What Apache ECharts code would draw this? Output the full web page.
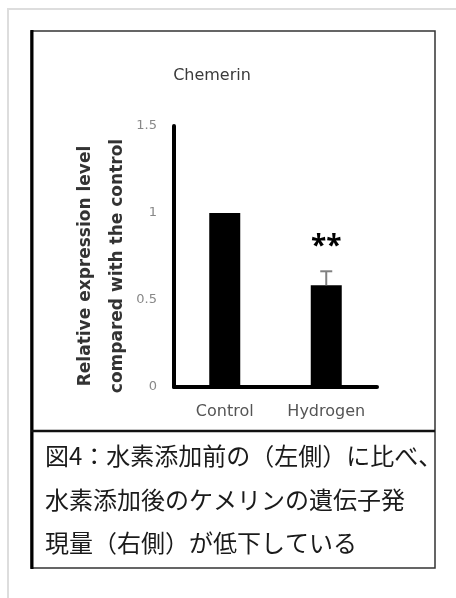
<!DOCTYPE html>
<html>
<head>
<meta charset="utf-8">
<script src="https://cdn.jsdelivr.net/npm/echarts@6/dist/echarts.min.js"></script>
<style>
html,body{margin:0;padding:0;background:#fff;}
#main{width:456px;height:598px;}
</style>
</head>
<body>
<div id="main"></div>
<script>
const categories = ['Control', 'Hydrogen'];
const values = [1.0, 0.585];
const errors = [0.0, 0.08];
const marks = ['', '**'];
const yTicks = ['0', '0.5', '1', '1.5'];
const chartTitle = 'Chemerin';
const yTitleLines = ['Relative expression level', 'compared with the control'];
const captionLines = ['図4：水素添加前の（左側）に比べ、', '水素添加後のケメリンの遺伝子発', '現量（右側）が低下している'];

const chart = echarts.init(document.getElementById('main'), null, {renderer: 'canvas'});

const option = {
  backgroundColor: '#ffffff',
  animation: false,
  title: {
    text: chartTitle,
    left: 207,
    top: 63,
    textAlign: 'center',
    textStyle: {fontFamily: 'DejaVu Sans', fontSize: 16, fontWeight: 'normal', color: '#3a3a3a'}
  },
  grid: {left: 174, right: 79, top: 126, bottom: 211, containLabel: false},
  xAxis: {
    type: 'category',
    data: categories,
    axisLine: {show: true, lineStyle: {color: '#000', width: 4}},
    axisTick: {show: false},
    axisLabel: {color: '#555', fontSize: 16, fontFamily: 'DejaVu Sans', margin: 17}
  },
  yAxis: {
    type: 'value',
    min: 0, max: 1.5, interval: 0.5,
    axisLine: {show: true, lineStyle: {color: '#000', width: 4}},
    axisTick: {show: false},
    splitLine: {show: false},
    axisLabel: {
      color: '#888', fontSize: 13, fontFamily: 'DejaVu Sans', margin: 17,
      formatter: function (v) { return yTicks[Math.round(v / 0.5)]; }
    }
  },
  series: [
    {
      type: 'bar',
      data: values,
      barWidth: 31,
      itemStyle: {color: '#000'}
    },
    {
      type: 'custom',
      data: categories.map(function (c, i) { return [i, values[i], errors[i]]; }),
      z: 10,
      renderItem: function (params, api) {
        const i = api.value(0);
        const v = api.value(1);
        const e = api.value(2);
        const top = api.coord([i, v + e]);
        const base = api.coord([i, v]);
        const children = [];
        if (e > 0) {
          children.push({type: 'line', shape: {x1: base[0], y1: base[1], x2: top[0], y2: top[1]}, style: {stroke: '#808080', lineWidth: 2}});
          children.push({type: 'line', shape: {x1: top[0] - 6, y1: top[1], x2: top[0] + 6, y2: top[1]}, style: {stroke: '#808080', lineWidth: 2}});
        }
        if (marks[i]) {
          children.push({type: 'text', x: top[0], y: top[1] - 24, style: {text: marks[i], fill: '#000', font: 'bold 28px "Open Sans"', align: 'center', verticalAlign: 'middle'}});
        }
        return {type: 'group', children: children};
      }
    }
  ],
  graphic: [
    {type: 'rect', shape: {x: 8, y: 9, width: 480, height: 640}, style: {fill: null, stroke: '#dddddd', lineWidth: 2}, silent: true},
    {type: 'rect', shape: {x: 31, y: 31, width: 404, height: 537}, style: {fill: null, stroke: '#333', lineWidth: 1.5}, silent: true},
    {type: 'line', shape: {x1: 32, y1: 30, x2: 32, y2: 569}, style: {stroke: '#000', lineWidth: 3}, silent: true},
    {type: 'line', shape: {x1: 31, y1: 431, x2: 435, y2: 431}, style: {stroke: '#111', lineWidth: 2.5}, silent: true},
    {
      type: 'text', x: 102, y: 266, rotation: Math.PI / 2,
      style: {
        text: yTitleLines.join('\n'), font: 'bold 17px "DejaVu Sans"', fill: '#333',
        align: 'center', verticalAlign: 'middle', lineHeight: 32
      }
    },
    {type: 'text', left: 45, top: 444, style: {text: captionLines[0], font: '24px "Noto Sans CJK JP"', fill: '#1a1a1a'}},
    {type: 'text', left: 45, top: 488, style: {text: captionLines[1], font: '24px "Noto Sans CJK JP"', fill: '#1a1a1a'}},
    {type: 'text', left: 45, top: 531, style: {text: captionLines[2], font: '24px "Noto Sans CJK JP"', fill: '#1a1a1a'}}
  ]
};
chart.setOption(option);
</script>
</body>
</html>
